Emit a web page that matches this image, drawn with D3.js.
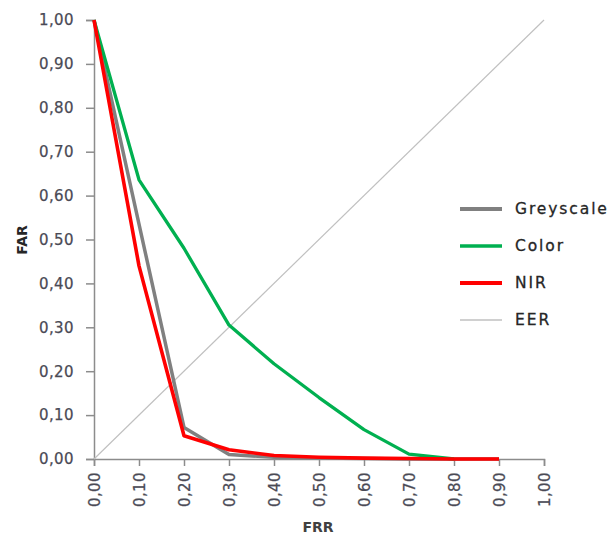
<!DOCTYPE html>
<html>
<head>
<meta charset="utf-8">
<script src="https://cdn.jsdelivr.net/npm/d3@7"></script>
<style>
  body { margin: 0; background: #fff; }
  svg { display: block; }
</style>
</head>
<body>
<svg id="chart" width="610" height="536"></svg>
<script>
// FRR thresholds (x axis)
var frr = [0, 0.1, 0.2, 0.3, 0.4, 0.5, 0.6, 0.7, 0.8, 0.9];
// FAR values per series
var greyscale = [1.00, 0.535, 0.072, 0.010, 0.004, 0.002, 0.001, 0.000, 0.000, 0.000];
var color     = [1.00, 0.636, 0.480, 0.305, 0.217, 0.140, 0.067, 0.011, 0.000, 0.000];
var nir       = [1.00, 0.440, 0.053, 0.021, 0.008, 0.004, 0.002, 0.001, 0.000, 0.000];
var eer       = [[0, 0], [1, 1]];

var ticks = [0, 0.1, 0.2, 0.3, 0.4, 0.5, 0.6, 0.7, 0.8, 0.9, 1.0];
var seriesNames = ["Greyscale", "Color", "NIR", "EER"];
var seriesColors = ["#808080", "#00b050", "#ff0000", "#c0c0c0"];
var seriesWidths = [3.5, 3.3, 3.6, 1.2];

var svg = d3.select("#chart");
var fmt = function (d) { return d3.format(".2f")(d).replace(".", ","); };

var x = d3.scaleLinear().domain([0, 1]).range([94, 544]);
var y = d3.scaleLinear().domain([0, 1]).range([459, 20]);

// y axis
var yAxis = svg.append("g")
    .attr("transform", "translate(94,0)")
    .call(d3.axisLeft(y).tickValues(ticks).tickFormat(fmt).tickSize(8).tickPadding(12));
// x axis
var xAxis = svg.append("g")
    .attr("transform", "translate(0,459)")
    .call(d3.axisBottom(x).tickValues(ticks).tickFormat(fmt).tickSize(7));

[yAxis, xAxis].forEach(function (ax) {
  ax.select(".domain").attr("stroke", "#8c8c8c").attr("stroke-width", 1.5);
  ax.selectAll(".tick line").attr("stroke", "#8c8c8c").attr("stroke-width", 1.5);
  ax.selectAll("text")
    .attr("fill", "#4a4a55")
    .attr("stroke", "#4a4a55")
    .attr("stroke-width", 0.25)
    .style("font-family", "'DejaVu Sans', sans-serif")
    .style("font-size", "15px")
    .style("letter-spacing", "0.4px");
});

xAxis.selectAll(".tick text")
    .attr("transform", "rotate(-90)")
    .attr("text-anchor", "end")
    .attr("x", -13)
    .attr("y", 0)
    .attr("dy", "0.35em");

// axis titles
svg.append("text")
    .attr("x", 318).attr("y", 532)
    .attr("text-anchor", "middle")
    .attr("fill", "#404040")
    .style("font-family", "'DejaVu Sans', sans-serif")
    .style("font-size", "14px")
    .style("font-weight", "bold")
    .text("FRR");

svg.append("text")
    .attr("transform", "translate(27,240) rotate(-90)")
    .attr("text-anchor", "middle")
    .attr("fill", "#262626")
    .style("font-family", "'DejaVu Sans', sans-serif")
    .style("font-size", "14px")
    .style("font-weight", "bold")
    .text("FAR");

var line = d3.line()
    .x(function (d) { return x(d[0]); })
    .y(function (d) { return y(d[1]); });

// EER diagonal first (behind the curves)
svg.append("path")
    .datum(eer)
    .attr("d", line)
    .attr("fill", "none")
    .attr("stroke", seriesColors[3])
    .attr("stroke-width", seriesWidths[3]);

var curves = [greyscale, color, nir];
curves.forEach(function (vals, i) {
  var pts = frr.map(function (f, j) { return [f, vals[j]]; });
  if (i === 1) pts = pts.slice(0, 9);
  svg.append("path")
      .datum(pts)
      .attr("d", line)
      .attr("fill", "none")
      .attr("stroke", seriesColors[i])
      .attr("stroke-width", seriesWidths[i])
      .attr("stroke-linejoin", "round");
});

// legend
var legend = svg.append("g");
seriesNames.forEach(function (name, i) {
  var ly = 209 + i * 37;
  legend.append("line")
      .attr("x1", 460).attr("x2", 502)
      .attr("y1", ly).attr("y2", ly)
      .attr("stroke", seriesColors[i])
      .attr("stroke-width", i === 0 ? 4 : seriesWidths[i] + 0.4);
  legend.append("text")
      .attr("x", 515).attr("y", ly)
      .attr("dy", "0.35em")
      .attr("fill", "#262626")
      .attr("stroke", "#262626")
      .attr("stroke-width", 0.3)
      .style("font-family", "'DejaVu Sans', sans-serif")
      .style("font-size", "15.5px")
      .style("letter-spacing", "1.9px")
      .text(name);
});
</script>
</body>
</html>
